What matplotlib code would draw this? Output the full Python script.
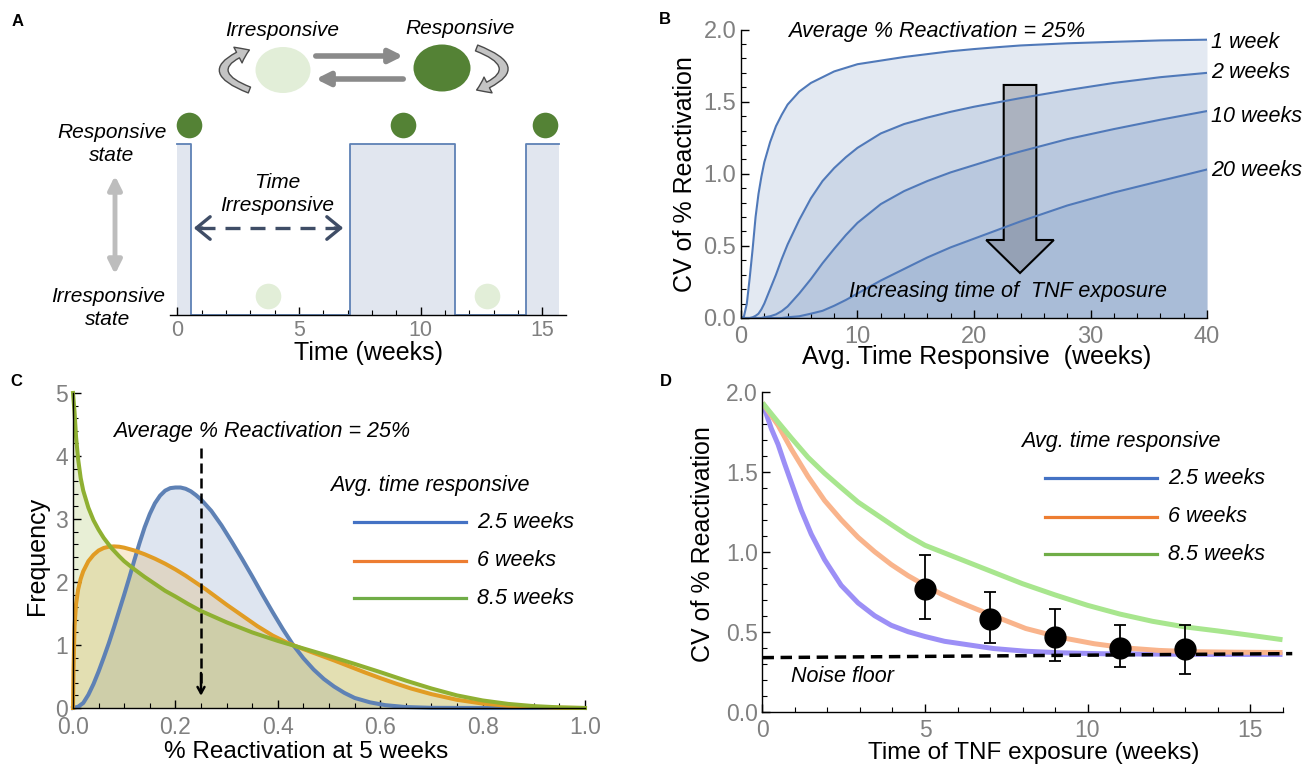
import matplotlib
matplotlib.use('Agg')
import matplotlib.pyplot as plt
import matplotlib.ticker as ticker
from matplotlib.patches import Ellipse, FancyArrowPatch, FancyArrow

# ======== Data ========
# A: example trace, 1 = responsive, 0 = irresponsive
switch_weeks = [0, 0.58, 7.09, 11.43, 14.31, 15.68]
switch_state = [1, 0, 1, 0, 1]
resp_dot_weeks = [0.5, 9.26, 15.1]
irr_dot_weeks = [3.72, 12.72]

# B: CV of % reactivation vs. average time responsive, one curve per TNF exposure
avg_resp_weeks = [0, 0.25, 0.5, 0.75, 1, 1.25, 1.5, 1.75, 2, 2.5, 3, 3.5, 4, 5, 6, 7,
                  8, 9, 10, 12, 14, 16, 18, 20, 22, 24, 28, 32, 36, 40]
cv_1wk = [0, 0.01, 0.10, 0.28, 0.48, 0.70, 0.86, 0.98, 1.08, 1.22, 1.33, 1.41, 1.48,
          1.57, 1.63, 1.67, 1.71, 1.735, 1.76, 1.785, 1.81, 1.83, 1.85, 1.865, 1.878,
          1.89, 1.905, 1.915, 1.925, 1.93]
cv_2wk = [0, 0, 0, 0, 0.005, 0.015, 0.03, 0.06, 0.10, 0.20, 0.30, 0.41, 0.51,
          0.68, 0.83, 0.95, 1.04, 1.115, 1.18, 1.28, 1.345, 1.39, 1.43, 1.465, 1.495,
          1.525, 1.58, 1.63, 1.67, 1.70]
cv_10wk = [0, 0, 0, 0, 0, 0, 0, 0, 0.005, 0.012, 0.025, 0.048, 0.08,
           0.17, 0.27, 0.38, 0.48, 0.575, 0.66, 0.79, 0.88, 0.95, 1.01, 1.06, 1.11,
           1.155, 1.24, 1.31, 1.375, 1.435]
cv_20wk = [0, 0, 0, 0, 0, 0, 0, 0, 0, 0, 0, 0, 0.005,
           0.012, 0.03, 0.05, 0.085, 0.125, 0.17, 0.26, 0.34, 0.42, 0.49, 0.55, 0.61,
           0.67, 0.78, 0.87, 0.95, 1.03]
exposure_labels = ['1 week', '2 weeks', '10 weeks', '20 weeks']

# C: distribution of % reactivation at 5 weeks (avg. time responsive 2.5 / 6 / 8.5 wk)
frac_2p5 = [0, 0.01, 0.02, 0.03, 0.04, 0.05, 0.06, 0.07, 0.08, 0.09, 0.1, 0.11, 0.12,
            0.13, 0.14, 0.15, 0.16, 0.17, 0.18, 0.19, 0.2, 0.21, 0.22, 0.23, 0.24, 0.25,
            0.27, 0.29, 0.31, 0.33, 0.35, 0.37, 0.39, 0.41, 0.43, 0.45, 0.47, 0.49,
            0.51, 0.53, 0.55, 0.58, 0.61, 0.65, 0.7, 0.8, 1.0]
freq_2p5 = [0, 0.02, 0.08, 0.21, 0.38, 0.58, 0.8, 1.03, 1.28, 1.54, 1.8, 2.07, 2.35,
            2.62, 2.87, 3.08, 3.25, 3.37, 3.45, 3.49, 3.5, 3.5, 3.48, 3.44, 3.38, 3.31,
            3.13, 2.9, 2.64, 2.37, 2.09, 1.8, 1.52, 1.25, 1.0, 0.79, 0.61, 0.46,
            0.34, 0.24, 0.16, 0.09, 0.045, 0.015, 0.003, 0, 0]
frac_6 = [0, 0.001, 0.003, 0.006, 0.01, 0.015, 0.02, 0.03, 0.04, 0.05, 0.06, 0.07,
          0.08, 0.09, 0.1, 0.12, 0.14, 0.16, 0.18, 0.2, 0.22, 0.24, 0.26, 0.28, 0.3,
          0.33, 0.36, 0.39, 0.42, 0.45, 0.48, 0.51, 0.54, 0.57, 0.6, 0.63, 0.66,
          0.7, 0.75, 0.8, 0.85, 0.9, 0.95, 1.0]
freq_6 = [0, 0.6, 1.3, 1.65, 1.88, 2.05, 2.17, 2.33, 2.43, 2.5, 2.54, 2.56,
          2.565, 2.56, 2.545, 2.5, 2.44, 2.37, 2.29, 2.2, 2.1, 1.99, 1.88, 1.76, 1.64,
          1.47, 1.3, 1.15, 1.03, 0.935, 0.845, 0.755, 0.66, 0.565, 0.475, 0.39, 0.31,
          0.22, 0.13, 0.07, 0.035, 0.015, 0.005, 0]
frac_8p5 = [0, 0.003, 0.006, 0.01, 0.015, 0.02, 0.03, 0.04, 0.05, 0.06, 0.075, 0.09,
            0.1, 0.12, 0.14, 0.16, 0.18, 0.2, 0.225, 0.25, 0.275, 0.3, 0.35, 0.4, 0.45,
            0.5, 0.55, 0.6, 0.65, 0.7, 0.75, 0.8, 0.85, 0.9, 0.95, 1.0]
freq_8p5 = [5.0, 4.7, 4.3, 3.95, 3.65, 3.45, 3.18, 2.98, 2.83, 2.7, 2.54, 2.41,
            2.33, 2.2, 2.08, 1.97, 1.86, 1.77, 1.65, 1.54, 1.45, 1.36, 1.2, 1.065, 0.945,
            0.825, 0.7, 0.57, 0.435, 0.31, 0.2, 0.12, 0.065, 0.03, 0.01, 0]
mean_reactivation = 0.25
resp_labels = ['2.5 weeks', '6 weeks', '8.5 weeks']

# D: CV vs. time of TNF exposure, model curves + measurements
tnf_2p5 = [0, 0.27, 0.48, 0.68, 0.89, 1.19, 1.5, 1.91, 2.42, 2.94, 3.45, 3.96, 4.48,
           5.0, 5.6, 6.1, 7.1, 8.1, 9.2, 10.5, 12, 14, 16]
cv_d_2p5 = [1.93, 1.77, 1.67, 1.55, 1.43, 1.26, 1.11, 0.95, 0.79, 0.68, 0.60, 0.54, 0.50,
            0.47, 0.44, 0.425, 0.395, 0.378, 0.368, 0.362, 0.36, 0.358, 0.358]
tnf_6 = [0, 0.48, 0.89, 1.4, 1.91, 2.42, 2.94, 3.45, 3.96, 4.48, 5.0, 5.5, 6.0, 6.6,
         7.1, 8.1, 9.15, 10.2, 11.2, 12.2, 13.2, 14.5, 16]
cv_d_6 = [1.93, 1.79, 1.64, 1.47, 1.32, 1.20, 1.09, 1.00, 0.92, 0.85, 0.79, 0.735, 0.69,
          0.64, 0.60, 0.52, 0.465, 0.425, 0.398, 0.383, 0.375, 0.372, 0.37]
tnf_8p5 = [0, 0.48, 0.89, 1.4, 1.91, 2.42, 2.94, 3.45, 3.96, 4.48, 5, 6, 7, 8, 9, 10,
           11, 12, 13, 14, 15, 16]
cv_d_8p5 = [1.93, 1.81, 1.71, 1.59, 1.49, 1.40, 1.31, 1.24, 1.17, 1.10, 1.04, 0.96, 0.88,
            0.80, 0.73, 0.665, 0.61, 0.565, 0.53, 0.505, 0.478, 0.45]
tnf_meas = [5, 7, 9, 11, 13]
cv_meas = [0.77, 0.58, 0.47, 0.40, 0.395]
cv_meas_hi = [0.98, 0.75, 0.64, 0.545, 0.54]
cv_meas_lo = [0.58, 0.43, 0.32, 0.28, 0.235]
noise_weeks = [0, 16.3]
noise_cv = [0.338, 0.363]

# ======== Style ========
plt.rcParams.update({
    'font.family': 'Liberation Sans',
    'xtick.direction': 'in', 'ytick.direction': 'in',
    'xtick.major.size': 6, 'ytick.major.size': 6,
    'xtick.minor.size': 3.5, 'ytick.minor.size': 3.5,
    'xtick.major.width': 1.0, 'ytick.major.width': 1.0,
    'xtick.minor.width': 0.8, 'ytick.minor.width': 0.8,
    'axes.linewidth': 1.0,
    'xtick.labelcolor': '#808080', 'ytick.labelcolor': '#808080',
})

W, H = 1309, 764
blue, orange, green = '#5e81b5', '#e19c24', '#8fb032'
key_colors = ['#4472c4', '#ed7d31', '#70ad47']
d_colors = ['#9c8ff6', '#f9b48c', '#a8e68e']
dark_green, light_green = '#548235', '#e2eed8'

fig = plt.figure(figsize=(W / 100, H / 100), dpi=100)


def add_ax(left, top, right, bottom):
    # axes placed by pixel edges
    return fig.add_axes([left / W, 1 - bottom / H, (right - left) / W, (bottom - top) / H])


def style(ax, fs=17, xpad=6.5):
    ax.spines['top'].set_visible(False)
    ax.spines['right'].set_visible(False)
    ax.tick_params(which='both', labelsize=fs)
    ax.tick_params(axis='x', which='both', pad=xpad)
    ax.tick_params(axis='y', which='both', pad=3.5)
    ax.patch.set_alpha(0)


# ======== A: state trace ========
axA = add_ax(170, 100, 566, 315)
trace = switch_state + [switch_state[-1]]
axA.fill_between(switch_weeks, 0, trace, step='post', color='#e1e6ef', lw=0)
axA.step(switch_weeks, trace, where='post', color=blue, lw=1.3, clip_on=False)
axA.scatter(resp_dot_weeks, [1.11] * len(resp_dot_weeks), s=340, color=dark_green,
            lw=0, clip_on=False, zorder=5)
axA.scatter(irr_dot_weeks, [0.111] * len(irr_dot_weeks), s=340, color=light_green,
            lw=0, clip_on=False, zorder=5)
axA.set_xlim(-0.296, 15.97)
axA.set_ylim(0, 1.257)
style(axA, 15.5, xpad=3.5)
axA.spines['left'].set_visible(False)
axA.set_yticks([])
axA.xaxis.set_major_locator(ticker.MultipleLocator(5))
axA.xaxis.set_minor_locator(ticker.MultipleLocator(1))

# ======== B: CV vs avg time responsive ========
axB = add_ax(741, 29.6, 1207, 318)
for cv in (cv_1wk, cv_2wk, cv_10wk, cv_20wk):
    axB.fill_between(avg_resp_weeks, 0, cv, color=blue, alpha=0.17, lw=0)
    axB.plot(avg_resp_weeks, cv, color='#5079b9', lw=1.5, solid_joinstyle='round')
axB.add_patch(FancyArrow(23.95, 1.616, 0, -1.304, width=2.8, head_width=5.8,
                         head_length=0.229, length_includes_head=True,
                         facecolor=(0.45, 0.45, 0.48, 0.36), edgecolor='black', lw=1.5))
axB.set_xlim(0, 40)
axB.set_ylim(0, 2)
style(axB, xpad=5.5)
axB.xaxis.set_major_locator(ticker.MultipleLocator(10))
axB.xaxis.set_minor_locator(ticker.MultipleLocator(2))
axB.yaxis.set_major_locator(ticker.MultipleLocator(0.5))
axB.yaxis.set_minor_locator(ticker.MultipleLocator(0.1))
axB.yaxis.set_major_formatter(ticker.FormatStrFormatter('%.1f'))

# ======== C: distribution of % reactivation ========
axC = add_ax(73, 393, 585, 708)
c_series = [(frac_2p5, freq_2p5, blue), (frac_6, freq_6, orange), (frac_8p5, freq_8p5, green)]
for x, y, c in c_series:
    axC.fill_between(x, 0, y, color=c, alpha=0.2, lw=0)
for x, y, c in c_series:
    axC.plot(x, y, color=c, lw=2.9, clip_on=False, solid_joinstyle='round')
axC.plot([mean_reactivation, mean_reactivation], [4.12, 0.35], color='black', lw=1.8,
         ls=(0, (4, 2)))
axC.annotate('', xy=(mean_reactivation, 0.15), xytext=(mean_reactivation, 0.6),
             arrowprops=dict(arrowstyle='->,head_length=0.45,head_width=0.25',
                             color='black', lw=1.8))
axC.set_xlim(0, 1)
axC.set_ylim(0, 5)
style(axC, 16.5, xpad=5.5)
axC.xaxis.set_major_locator(ticker.MultipleLocator(0.2))
axC.xaxis.set_minor_locator(ticker.MultipleLocator(0.05))
axC.xaxis.set_major_formatter(ticker.FormatStrFormatter('%.1f'))
axC.yaxis.set_major_locator(ticker.MultipleLocator(1))
axC.yaxis.set_minor_locator(ticker.MultipleLocator(0.2))

# ======== D: CV vs time of TNF exposure ========
axD = add_ax(762.5, 391.7, 1282.5, 711.7)
for x, y, c in zip((tnf_2p5, tnf_6, tnf_8p5), (cv_d_2p5, cv_d_6, cv_d_8p5), d_colors):
    axD.plot(x, y, color=c, lw=3.6, solid_capstyle='butt', solid_joinstyle='round')
axD.plot(noise_weeks, noise_cv, color='black', lw=2.5, ls=(0, (3.3, 1.9)), clip_on=False)
yerr = [[m - lo for m, lo in zip(cv_meas, cv_meas_lo)],
        [hi - m for m, hi in zip(cv_meas, cv_meas_hi)]]
axD.errorbar(tnf_meas, cv_meas, yerr=yerr, fmt='o', color='black', ms=15,
             elinewidth=1.3, capsize=4, capthick=1.3, zorder=5)
axD.set_xlim(0, 16)
axD.set_ylim(0, 2)
style(axD, 16.5, xpad=5.5)
axD.xaxis.set_major_locator(ticker.MultipleLocator(5))
axD.xaxis.set_minor_locator(ticker.MultipleLocator(1))
axD.yaxis.set_major_locator(ticker.MultipleLocator(0.5))
axD.yaxis.set_minor_locator(ticker.MultipleLocator(0.1))
axD.yaxis.set_major_formatter(ticker.FormatStrFormatter('%.1f'))

# ======== Overlay: schematic, labels, legends (pixel coordinates) ========
ov = fig.add_axes([0, 0, 1, 1])
ov.set_xlim(0, W)
ov.set_ylim(H, 0)
ov.axis('off')

it = dict(style='italic', color='black')

# state-switching schematic
ov.add_patch(Ellipse((283, 70), 55, 46, color=light_green, lw=0))
ov.add_patch(Ellipse((442, 68), 57, 47, color=dark_green, lw=0))
ov.add_patch(FancyArrowPatch((313, 56), (406, 56), arrowstyle='-|>', mutation_scale=20,
                             color='#8a8a8a', lw=4))
ov.add_patch(FancyArrowPatch((406, 79), (313, 79), arrowstyle='-|>', mutation_scale=20,
                             color='#8a8a8a', lw=4))
curl = dict(arrowstyle='simple,head_width=0.85,head_length=0.6,tail_width=0.3',
            mutation_scale=15, facecolor='#c4c4c4', edgecolor='#4a4a4a', lw=1)
ov.add_patch(FancyArrowPatch((252, 91), (252, 49), connectionstyle='arc3,rad=-1.35', **curl))
ov.add_patch(FancyArrowPatch((474, 47), (474, 91), connectionstyle='arc3,rad=-1.35', **curl))
ov.text(282, 30, 'Irresponsive', fontsize=15, ha='center', va='center', **it)
ov.text(460, 28, 'Responsive', fontsize=15, ha='center', va='center', **it)

ov.text(112, 144, 'Responsive\nstate', fontsize=15, ha='center', va='center',
        linespacing=1.25, **it)
ov.text(108, 308, 'Irresponsive\nstate', fontsize=15, ha='center', va='center',
        linespacing=1.25, **it)
ov.add_patch(FancyArrowPatch((115, 173), (115, 277), arrowstyle='<|-|>', mutation_scale=20,
                             color='#bdbdbd', lw=3.5))
ov.text(277, 194, 'Time\nIrresponsive', fontsize=15, ha='center', va='center',
        linespacing=1.25, **it)
ov.plot([200, 338], [228, 228], color='#3f4d66', lw=2.4, ls=(0, (4.5, 3)))
for x0, x1 in ((205, 191), (332, 346)):
    ov.add_patch(FancyArrowPatch((x0, 228), (x1, 228),
                                 arrowstyle='->,head_length=0.55,head_width=0.45',
                                 mutation_scale=18, color='#3f4d66', lw=2.4))
ov.text(369, 353, 'Time (weeks)', fontsize=18, ha='center', va='center')

# panel B labels
ov.text(937, 32, 'Average % Reactivation = 25%', fontsize=15.5, ha='center', va='center', **it)
for lab, yy in zip(exposure_labels, (42, 73, 116, 170)):
    ov.text(1211, yy, lab, fontsize=15.5, ha='left', va='center', **it)
ov.text(1008, 292, 'Increasing time of  TNF exposure', fontsize=15.5, ha='center',
        va='center', **it)
ov.text(977, 357, 'Avg. Time Responsive  (weeks)', fontsize=18, ha='center', va='center')
ov.text(685, 174, 'CV of % Reactivation', fontsize=18, ha='center', va='center', rotation=90)

# panel C labels
ov.text(262, 431, 'Average % Reactivation = 25%', fontsize=15.5, ha='center', va='center', **it)
ov.text(430, 485, 'Avg. time responsive', fontsize=15.5, ha='center', va='center', **it)
for lab, yy, c in zip(resp_labels, (522, 561, 598), key_colors):
    ov.plot([354, 466], [yy, yy], color=c, lw=2.3)
    ov.text(477, yy, lab, fontsize=15.5, ha='left', va='center', **it)
ov.text(37, 556, 'Frequency', fontsize=18, ha='center', va='center', rotation=90)
ov.text(306, 752.5, '% Reactivation at 5 weeks', fontsize=17.5, ha='center', va='center')

# panel D labels
ov.text(1121, 442, 'Avg. time responsive', fontsize=15.5, ha='center', va='center', **it)
for lab, yy, c in zip(resp_labels, (478, 517, 554), key_colors):
    ov.plot([1045, 1157], [yy, yy], color=c, lw=2.3)
    ov.text(1168, yy, lab, fontsize=15.5, ha='left', va='center', **it)
ov.text(791, 677, 'Noise floor', fontsize=15.5, ha='left', va='center', **it)
ov.text(703, 544, 'CV of % Reactivation', fontsize=18, ha='center', va='center', rotation=90)
ov.text(1034, 752.5, 'Time of TNF exposure (weeks)', fontsize=17.5, ha='center', va='center')

# panel letters
for letter, (x, y) in zip('ABCD', ((18, 21), (665, 20), (16, 382), (666, 382))):
    ov.text(x, y, letter, fontsize=12, fontweight='bold', ha='center', va='center')

fig.savefig('out.png', dpi=100)
plt.close(fig)
